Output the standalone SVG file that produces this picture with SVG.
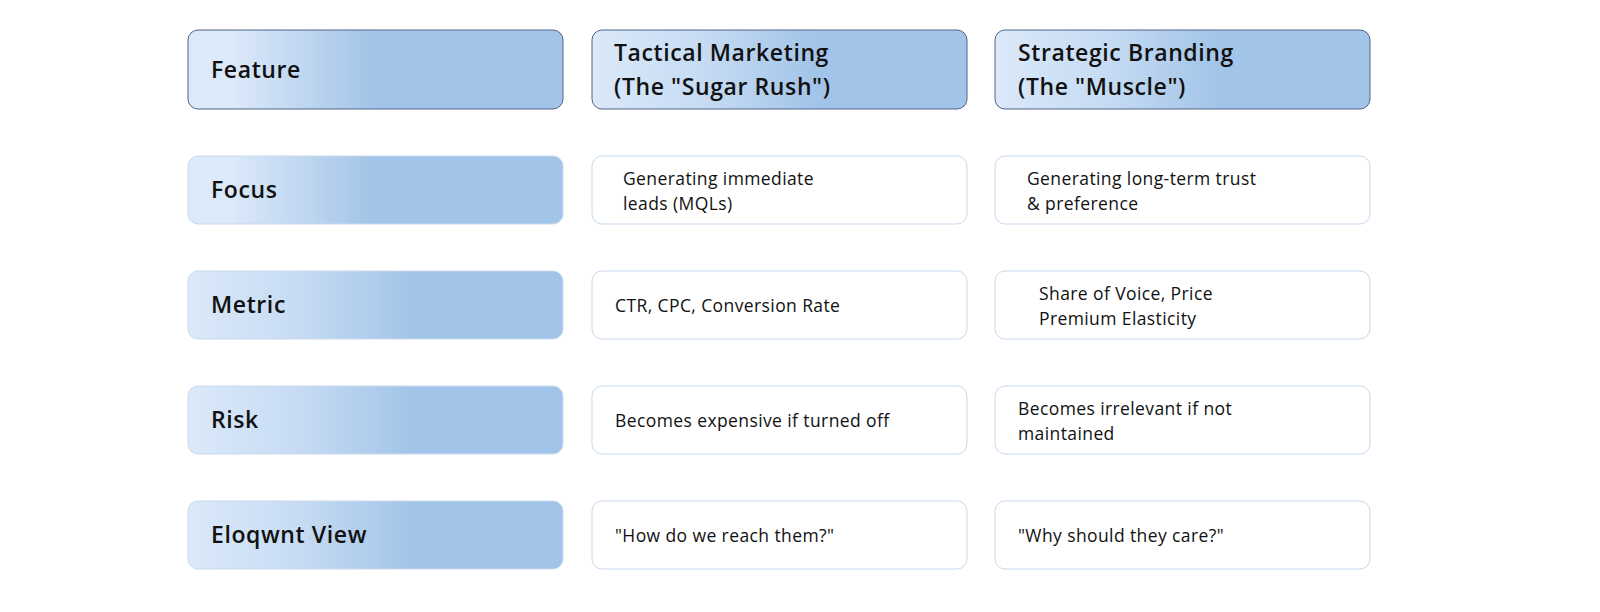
<svg xmlns="http://www.w3.org/2000/svg" width="1600" height="612" viewBox="0 0 1600 612">
<defs>
<linearGradient id="g1" x1="0" y1="0" x2="1" y2="0">
<stop offset="0" stop-color="#dbe9f9"/><stop offset="0.12" stop-color="#dbe9f9"/><stop offset="0.5" stop-color="#a2c4e8"/><stop offset="1" stop-color="#a2c4e8"/>
</linearGradient>
<linearGradient id="g2" x1="0" y1="0" x2="1" y2="0">
<stop offset="0" stop-color="#dbe9f9"/><stop offset="0.3" stop-color="#c6dbf3"/><stop offset="0.6" stop-color="#a2c4e8"/><stop offset="1" stop-color="#a2c4e8"/>
</linearGradient>
<style>
.h{stroke:#51628a;stroke-width:1}
.k{stroke:#c9d9ef;stroke-width:1}
.w{fill:#fff;stroke:#c9d9ef;stroke-width:1}
.lb{font-family:"Open Sans","Liberation Sans",sans-serif;font-weight:600;font-size:23px;letter-spacing:0.6px;fill:#111}
.tx{font-family:"Open Sans","Liberation Sans",sans-serif;font-size:17.5px;letter-spacing:0.4px;fill:#111}
</style>
</defs>
<rect width="1600" height="612" fill="#fff"/>
<g id="connectors"/>
<g id="h1"><rect class="h" x="188" y="30" width="375" height="79" rx="10" fill="url(#g1)"/><text class="lb" x="211" y="78">Feature</text></g>
<g id="h2"><rect class="h" x="592" y="30" width="375" height="79" rx="10" fill="url(#g2)"/><text class="lb" x="614" y="61">Tactical Marketing</text><text class="lb" x="614" y="95"> (The "Sugar Rush")</text></g>
<g id="h3"><rect class="h" x="995" y="30" width="375" height="79" rx="10" fill="url(#g2)"/><text class="lb" x="1018" y="61">Strategic Branding</text><text class="lb" x="1018" y="95">(The "Muscle")</text></g>

<g id="r1"><rect class="k" x="188" y="156" width="375" height="68" rx="10" fill="url(#g1)"/><text class="lb" x="211" y="198">Focus</text></g>
<g id="r1a"><rect class="w" x="592" y="156" width="375" height="68" rx="10"/><text class="tx" x="623" y="185">Generating immediate</text><text class="tx" x="623" y="210">leads (MQLs)</text></g>
<g id="r1b"><rect class="w" x="995" y="156" width="375" height="68" rx="10"/><text class="tx" x="1027" y="185">Generating long-term trust</text><text class="tx" x="1027" y="210">&amp; preference</text></g>

<g id="r2"><rect class="k" x="188" y="271" width="375" height="68" rx="10" fill="url(#g2)"/><text class="lb" x="211" y="313">Metric</text></g>
<g id="r2a"><rect class="w" x="592" y="271" width="375" height="68" rx="10"/><text class="tx" x="615" y="312">CTR, CPC, Conversion Rate</text></g>
<g id="r2b"><rect class="w" x="995" y="271" width="375" height="68" rx="10"/><text class="tx" x="1039" y="300">Share of Voice, Price</text><text class="tx" x="1039" y="325">Premium Elasticity</text></g>

<g id="r3"><rect class="k" x="188" y="386" width="375" height="68" rx="10" fill="url(#g2)"/><text class="lb" x="211" y="428">Risk</text></g>
<g id="r3a"><rect class="w" x="592" y="386" width="375" height="68" rx="10"/><text class="tx" x="615" y="427">Becomes expensive if turned off</text></g>
<g id="r3b"><rect class="w" x="995" y="386" width="375" height="68" rx="10"/><text class="tx" x="1018" y="415">Becomes irrelevant if not</text><text class="tx" x="1018" y="440">maintained</text></g>

<g id="r4"><rect class="k" x="188" y="501" width="375" height="68" rx="10" fill="url(#g2)"/><text class="lb" x="211" y="543">Eloqwnt View</text></g>
<g id="r4a"><rect class="w" x="592" y="501" width="375" height="68" rx="10"/><text class="tx" x="615" y="542">"How do we reach them?"</text></g>
<g id="r4b"><rect class="w" x="995" y="501" width="375" height="68" rx="10"/><text class="tx" x="1018" y="542">"Why should they care?"</text></g>
</svg>
